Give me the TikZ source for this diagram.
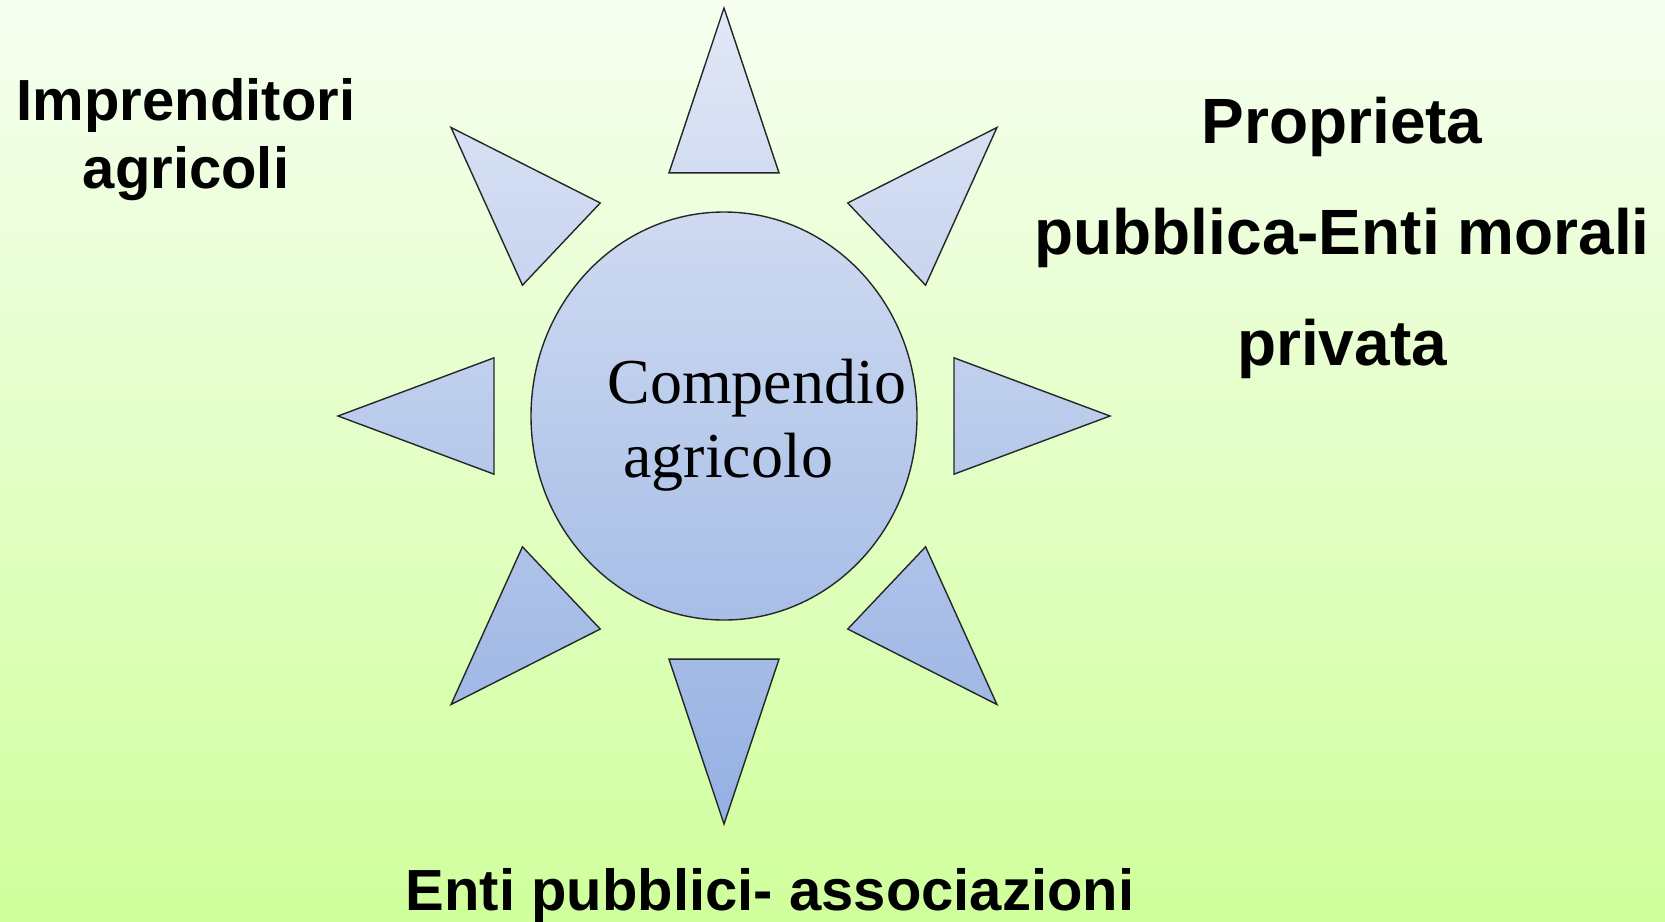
\documentclass[tikz,border=0pt]{standalone}
\usepackage{fontspec}
\setmainfont{Liberation Serif}
\setsansfont{Liberation Sans}
\definecolor{bgtop}{HTML}{F6FFF0}
\definecolor{bgmid}{HTML}{E4FFCB}
\definecolor{bgbottom}{HTML}{D0FF9C}
\definecolor{suntop}{HTML}{E2E8F6}
\definecolor{sunbottom}{HTML}{94B0E2}
\begin{document}
\begin{tikzpicture}[x=.5pt,y=-.5pt,
    grouptext/.style={font=\sffamily\bfseries\fontsize{29}{34}\selectfont,align=center,inner sep=0pt},
    suntext/.style={font=\fontsize{32}{38}\selectfont,inner sep=0pt,anchor=base west},
    sunbody/.style={draw=black!85,line width=.7pt,top color=suntop,bottom color=sunbottom}]
  % background
  \shade[top color=bgtop,middle color=bgmid,bottom color=bgbottom] (0,0) rectangle (1665,921);
  \useasboundingbox (0,0) rectangle (1665,921);
  % sun: eight rays and the disc, one path so the shading runs over all of it
  \begin{scope}[shift={(724,416)},x=193pt,y=-204pt]
    \def\tip{1}\def\foot{.6128}\def\half{13.45}
    \shadedraw[sunbody] foreach \a in {0,45,...,315}{
        (\a:\tip) -- (\a+\half:\foot) -- (\a-\half:\foot) -- cycle}
      (0,0) ellipse [x radius=.5,y radius=.5];
    \coordinate (centre) at (0,0);
  \end{scope}
  \node[suntext] (compendio) at (607,403) {Compendio};
  \node[suntext] (agricolo) at (623,477) {agricolo};
  % the three groups (base = last line)
  \node[grouptext,anchor=base] (imprenditori) at (186,188) {Imprenditori\\agricoli};
  \node[grouptext,anchor=base,font=\sffamily\bfseries\fontsize{32}{55.5}\selectfont]
    (proprieta) at (1342,365) {Proprieta\\pubblica-Enti morali\\privata};
  \node[grouptext,anchor=base] (enti) at (770,910) {Enti pubblici- associazioni};
\end{tikzpicture}
\end{document}
